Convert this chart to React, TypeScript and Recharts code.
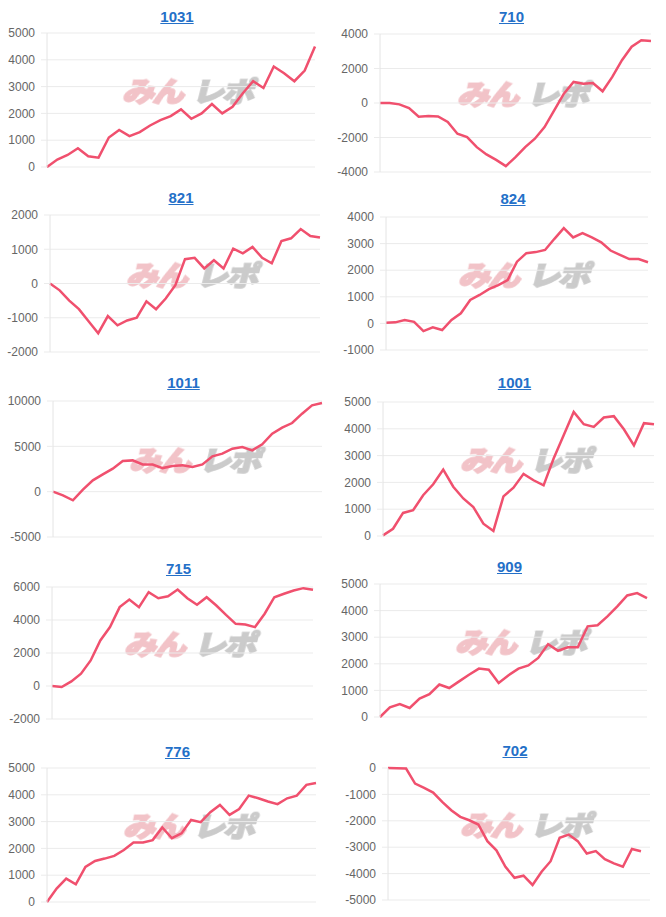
import React from 'react';
import { LineChart, Line, XAxis, YAxis, CartesianGrid } from 'recharts';

// machine numbers (chart titles)
const titles = ['1031', '710', '821', '824', '1011', '1001', '715', '909', '776', '702'];

// cumulative difference per day
const series1031 = [0, 280, 450, 700, 400, 350, 1100, 1380, 1150, 1300, 1550, 1750, 1900, 2150, 1800, 2000, 2350, 2000, 2250, 2750, 3200, 2950, 3750, 3500, 3200, 3600, 4500];
const series710 = [0, 0, -80, -300, -800, -760, -780, -1100, -1780, -1980, -2560, -2980, -3300, -3660, -3140, -2560, -2070, -1400, -430, 540, 1220, 1120, 1160, 680, 1510, 2480, 3260, 3640, 3600];
const series821 = [0, -200, -500, -750, -1100, -1450, -950, -1220, -1080, -1000, -520, -750, -440, -50, 710, 750, 440, 680, 440, 1020, 880, 1070, 750, 590, 1240, 1320, 1590, 1385, 1340];
const series824 = [20, 40, 130, 60, -290, -150, -250, 130, 380, 880, 1070, 1290, 1440, 1630, 2320, 2640, 2680, 2760, 3180, 3580, 3230, 3390, 3230, 3050, 2740, 2580, 2420, 2420, 2300];
const series1011 = [0, -400, -950, 220, 1250, 1900, 2540, 3380, 3450, 3000, 3000, 2600, 2830, 2900, 2720, 3000, 3900, 4190, 4740, 4930, 4560, 5220, 6400, 7060, 7570, 8600, 9520, 9780];
const series1001 = [25, 270, 860, 960, 1520, 1930, 2480, 1840, 1400, 1080, 460, 190, 1480, 1800, 2320, 2080, 1890, 2890, 3760, 4630, 4170, 4070, 4420, 4470, 3980, 3380, 4210, 4170];
const series715 = [0, -60, 280, 750, 1550, 2760, 3570, 4780, 5240, 4780, 5690, 5320, 5440, 5850, 5320, 4920, 5380, 4880, 4310, 3770, 3730, 3570, 4380, 5380, 5590, 5790, 5930, 5830];
const series909 = [0, 360, 490, 340, 690, 860, 1220, 1090, 1340, 1590, 1820, 1780, 1280, 1570, 1820, 1940, 2220, 2740, 2490, 2620, 2620, 3410, 3450, 3780, 4160, 4570, 4660, 4470];
const series776 = [0, 500, 870, 660, 1310, 1530, 1620, 1720, 1940, 2220, 2220, 2310, 2780, 2380, 2560, 3060, 2980, 3350, 3620, 3250, 3470, 3970, 3870, 3750, 3650, 3870, 3970, 4370, 4440];
const series702 = [0, -10, -20, -590, -750, -930, -1280, -1600, -1850, -1980, -2140, -2770, -3120, -3740, -4160, -4080, -4430, -3930, -3530, -2640, -2520, -2770, -3240, -3150, -3450, -3610, -3740, -3070, -3150, null];

// y axis ticks
const ticks0to5000 = [0, 1000, 2000, 3000, 4000, 5000];
const ticks710 = [-4000, -2000, 0, 2000, 4000];
const ticks821 = [-2000, -1000, 0, 1000, 2000];
const ticks824 = [-1000, 0, 1000, 2000, 3000, 4000];
const ticks1011 = [-5000, 0, 5000, 10000];
const ticks715 = [-2000, 0, 2000, 4000, 6000];
const ticks702 = [-5000, -4000, -3000, -2000, -1000, 0];

const allSeries = [series1031, series710, series821, series824, series1011, series1001, series715, series909, series776, series702];
const allTicks = [ticks0to5000, ticks710, ticks821, ticks824, ticks1011, ticks0to5000, ticks715, ticks0to5000, ticks0to5000, ticks702];

// layout of each panel: column x, plot left/right/top/bottom, title centre y
const layout = [
  { x0: 0, left: 47, right: 315, top: 33, bottom: 167, ty: 17 },
  { x0: 333, left: 380, right: 651, top: 34, bottom: 172, ty: 17 },
  { x0: 0, left: 50, right: 320, top: 215, bottom: 352, ty: 198 },
  { x0: 333, left: 386, right: 648, top: 217, bottom: 350, ty: 199 },
  { x0: 0, left: 53, right: 322, top: 401, bottom: 537, ty: 383 },
  { x0: 333, left: 383, right: 654, top: 402, bottom: 536, ty: 383 },
  { x0: 0, left: 52, right: 313, top: 587, bottom: 719, ty: 569 },
  { x0: 333, left: 380, right: 647, top: 584, bottom: 717, ty: 567 },
  { x0: 0, left: 47, right: 316, top: 768, bottom: 902, ty: 752 },
  { x0: 333, left: 388, right: 650, top: 768, bottom: 900, ty: 751 },
];

const LINE = '#f0506e';
const FONT = '"Liberation Sans", Arial, Helvetica, sans-serif';

const Panel: React.FC<{ idx: number }> = ({ idx }) => {
  const p = layout[idx];
  const values = allSeries[idx];
  const ticks = allTicks[idx];
  const rows = values.map((v, i) => ({ day: i, v }));
  const plotH = p.bottom - p.top;
  const cx = (p.left + p.right) / 2;
  const cy = (p.top + p.bottom) / 2;

  return (
    <>
      <a
        href="#"
        style={{
          position: 'absolute',
          left: cx - 4 - 50,
          width: 100,
          top: p.ty - 10,
          lineHeight: '20px',
          textAlign: 'center',
          fontFamily: FONT,
          fontWeight: 'bold',
          fontSize: 15,
          color: '#2470c8',
          textDecoration: 'underline',
        }}
      >
        {titles[idx]}
      </a>

      <div
        style={{
          position: 'absolute',
          left: cx + 9 - 90,
          width: 180,
          top: cy - 10 - 18,
          lineHeight: '36px',
          textAlign: 'center',
          fontFamily: '"Noto Sans CJK JP", sans-serif',
          fontWeight: 900,
          fontSize: 32,
          letterSpacing: -2,
          whiteSpace: 'nowrap',
          transform: 'skewX(-14deg) scaleY(0.85)',
          filter: 'blur(0.7px)',
        }}
      >
        <span style={{ color: '#f2c3c8', WebkitTextStroke: '2px #f2c3c8' }}>みん</span>
        <span style={{ color: '#cbcbcb', WebkitTextStroke: '2px #cbcbcb', marginLeft: 10 }}>レポ</span>
      </div>

      <div style={{ position: 'absolute', left: p.x0, top: p.top - 10 }}>
        <LineChart
          width={333}
          height={plotH + 20}
          data={rows}
          margin={{ top: 10, bottom: 10, left: 0, right: p.x0 + 333 - p.right }}
        >
          <CartesianGrid vertical={false} stroke="#ebebeb" />
          <XAxis dataKey="day" hide />
          <YAxis
            width={p.left - p.x0}
            domain={[ticks[0], ticks[ticks.length - 1]]}
            ticks={ticks}
            interval={0}
            axisLine={{ stroke: '#e4e4e4' }}
            tickLine={{ stroke: '#ebebeb' }}
            tickSize={6}
            tickMargin={6}
            tick={{ fill: '#666', fontSize: 12, fontFamily: FONT }}
          />
          <Line
            type="linear"
            dataKey="v"
            stroke={LINE}
            strokeWidth={2.5}
            dot={false}
            isAnimationActive={false}
          />
        </LineChart>
      </div>
    </>
  );
};

export default function App() {
  return (
    <div
      style={{
        position: 'absolute',
        left: 0,
        top: 0,
        width: 666,
        height: 917,
        background: '#fff',
        overflow: 'hidden',
      }}
    >
      {titles.map((_, i) => (
        <Panel key={titles[i]} idx={i} />
      ))}
    </div>
  );
}
